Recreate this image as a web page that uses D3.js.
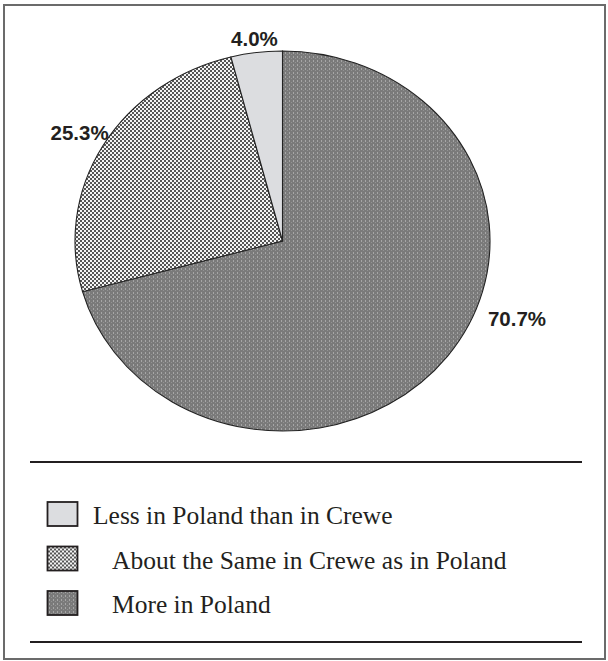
<!DOCTYPE html>
<html><head><meta charset="utf-8">
<script src="https://cdn.jsdelivr.net/npm/d3@7"></script>
<style>body{margin:0;background:#fff}svg{display:block}</style>
</head><body>
<script>
const categories = ["Less in Poland than in Crewe", "About the Same in Crewe as in Poland", "More in Poland"];
const values = [4.0, 25.3, 70.7];
const labels = ["4.0%", "25.3%", "70.7%"];

const W = 608, H = 661;
const cx = 282.5, cy = 241, rx = 207.5, ry = 190;
const svg = d3.select("body").append("svg").attr("width", W).attr("height", H);
const defs = svg.append("defs");

// patterns
defs.append("pattern").attr("id", "solid").attr("patternUnits", "userSpaceOnUse")
  .attr("width", 4).attr("height", 4)
  .append("rect").attr("width", 4).attr("height", 4).attr("fill", "#dcdde0");
const ck = defs.append("pattern").attr("id", "check").attr("patternUnits", "userSpaceOnUse")
  .attr("width", 4).attr("height", 4);
ck.append("rect").attr("width", 4).attr("height", 4).attr("fill", "#f4f4f4");
ck.append("rect").attr("width", 2).attr("height", 2).attr("fill", "#555555");
ck.append("rect").attr("x", 2).attr("y", 2).attr("width", 2).attr("height", 2).attr("fill", "#555555");
const dt = defs.append("pattern").attr("id", "dots").attr("patternUnits", "userSpaceOnUse")
  .attr("width", 4).attr("height", 4);
dt.append("rect").attr("width", 4).attr("height", 4).attr("fill", "#7a7a7a");
dt.append("rect").attr("x", 1).attr("y", 0).attr("width", 1).attr("height", 2).attr("fill", "#a6a6a6");
dt.append("rect").attr("x", 3).attr("y", 2).attr("width", 1).attr("height", 1).attr("fill", "#939393");
const fills = ["solid", "check", "dots"];

// frame
svg.append("rect").attr("x", 4).attr("y", 5).attr("width", 601).attr("height", 654)
  .attr("fill", "none").attr("stroke", "#6b6b6b").attr("stroke-width", 2);

// elliptical pie: clockwise from top: More, About, Less
const order = [2, 1, 0];
const pie = d3.pie().sort(null).value(i => values[i]);
const arcs = pie(order);
const pt = (a, kx = 1, ky = 1) => [cx + Math.sin(a) * rx * kx, cy - Math.cos(a) * ry * ky];
function wedge(d) {
  const p0 = pt(d.startAngle), p1 = pt(d.endAngle);
  const large = (d.endAngle - d.startAngle) > Math.PI ? 1 : 0;
  return `M${cx},${cy}L${p0[0]},${p0[1]}A${rx},${ry} 0 ${large} 1 ${p1[0]},${p1[1]}Z`;
}
svg.append("g").selectAll("path").data(arcs).join("path")
  .attr("d", wedge)
  .attr("fill", d => `url(#${fills[d.data]})`)
  .attr("stroke", "#222").attr("stroke-width", 1.1);

// labels
const labelK = {0: [1.08, 1.07], 1: [1.13, 1.13], 2: [1.42, 0.68]};
svg.selectAll("text.pct").data(arcs).join("text").attr("class", "pct")
  .attr("x", d => pt((d.startAngle + d.endAngle) / 2, labelK[d.data][0], labelK[d.data][1])[0])
  .attr("y", d => pt((d.startAngle + d.endAngle) / 2, labelK[d.data][0], labelK[d.data][1])[1] + 7)
  .attr("text-anchor", "middle")
  .attr("font-family", "Liberation Sans, Arial, sans-serif").attr("font-weight", "bold")
  .attr("font-size", 20.5).attr("fill", "#231f20")
  .text(d => labels[d.data]);

// separator lines
svg.append("line").attr("x1", 30).attr("x2", 582).attr("y1", 462).attr("y2", 462)
  .attr("stroke", "#231f20").attr("stroke-width", 2);
svg.append("line").attr("x1", 30).attr("x2", 582).attr("y1", 642).attr("y2", 642)
  .attr("stroke", "#231f20").attr("stroke-width", 2);

// legend
const ly = d3.scalePoint().domain(d3.range(categories.length)).range([514, 603]);
const textX = [93, 112, 112];
const rows = svg.append("g").selectAll("g").data(d3.range(categories.length)).join("g")
  .attr("transform", i => `translate(0,${ly(i)})`);
rows.append("rect").attr("x", 47.5).attr("y", -12).attr("width", 30).attr("height", 24)
  .attr("fill", i => `url(#${fills[i]})`).attr("stroke", "#231f20").attr("stroke-width", 1.8);
rows.append("text").attr("x", i => textX[i]).attr("y", 10)
  .attr("font-family", "Liberation Serif, Times New Roman, serif").attr("font-size", 25.5)
  .attr("fill", "#231f20").text(i => categories[i]);
</script>
</body></html>
